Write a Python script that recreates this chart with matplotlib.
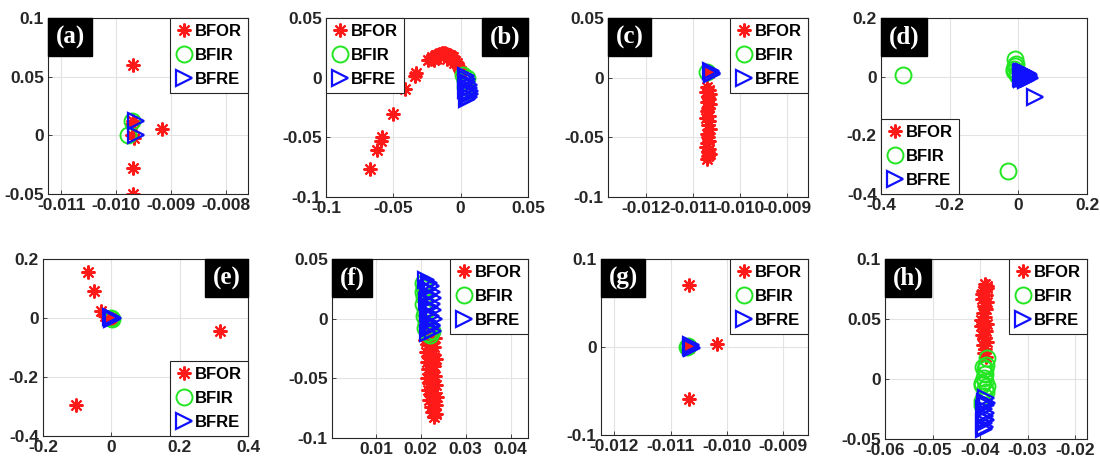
import matplotlib.pyplot as plt
from matplotlib.offsetbox import AnchoredText

plt.rcParams["font.family"] = ["Liberation Sans", "DejaVu Sans"]
plt.rcParams["font.weight"] = "bold"

labels = ["BFOR", "BFIR", "BFRE"]

# ---- (a)
a_or_x = [-0.00970, -0.00970, -0.00971, -0.00969, -0.00970, -0.00916, -0.00972, -0.00968]
a_or_y = [0.060, 0.012, 0.000, -0.028, -0.050, 0.005, 0.010, -0.002]
a_ir_x = [-0.00972, -0.00978]
a_ir_y = [0.012, 0.000]
a_re_x = [-0.00964, -0.00964]
a_re_y = [0.012, 0.000]

# ---- (b)
b_or_x = [-0.0674, -0.0625, -0.0595, -0.0585, -0.0506, -0.0415, -0.0341, -0.0328,
          -0.024, -0.022, -0.021, -0.019, -0.018, -0.017, -0.016, -0.015, -0.014, -0.013,
          -0.012, -0.011, -0.010, -0.009, -0.008, -0.007, -0.006, -0.005, -0.004, -0.003,
          -0.002, -0.001, 0.000, 0.001, -0.020, -0.015, -0.010, -0.005]
b_or_y = [-0.0763, -0.0607, -0.0530, -0.0500, -0.0302, -0.0099, 0.0014, 0.0037,
          0.015, 0.016, 0.017, 0.018, 0.019, 0.019, 0.020, 0.020, 0.021, 0.021,
          0.021, 0.020, 0.020, 0.019, 0.019, 0.018, 0.017, 0.015, 0.014, 0.012,
          0.010, 0.008, 0.006, 0.003, 0.015, 0.017, 0.016, 0.012]
b_ir_x = [0.002, 0.003, 0.003, 0.004, 0.005]
b_ir_y = [0.002, -0.003, -0.008, -0.012, 0.000]
b_re_x = [0.004, 0.005, 0.005, 0.006, 0.006, 0.007, 0.007, 0.006, 0.005, 0.004, 0.006]
b_re_y = [0.001, -0.001, -0.004, -0.006, -0.009, -0.011, -0.014, -0.016, -0.018, -0.010, -0.013]

# ---- (c)
c_or_x = [-0.01070, -0.01066, -0.01072, -0.01064, -0.01069, -0.01067, -0.01071, -0.01065,
          -0.01068, -0.01070, -0.01066, -0.01072, -0.01067, -0.01069, -0.01065, -0.01071,
          -0.01068, -0.01066, -0.01070, -0.01072, -0.01067, -0.01069, -0.01065, -0.01068,
          -0.01070, -0.01066, -0.01067]
c_or_y = [-0.008, -0.010, -0.012, -0.014, -0.016, -0.018, -0.020, -0.022, -0.025, -0.028,
          -0.032, -0.034, -0.036, -0.040, -0.043, -0.047, -0.050, -0.053, -0.055, -0.058,
          -0.060, -0.062, -0.064, -0.066, -0.068, 0.004, 0.005]
c_ir_x = [-0.01070]
c_ir_y = [0.0048]
c_re_x = [-0.01061, -0.01062, -0.01060]
c_re_y = [0.004, 0.006, 0.003]

# ---- (d)
d_or_x = []
d_or_y = []
d_ir_x = [-0.337, -0.029, -0.010, -0.007, -0.013, -0.005, -0.009, -0.003, -0.012]
d_ir_y = [0.005, -0.322, 0.059, 0.042, 0.025, 0.014, 0.035, 0.005, 0.018]
d_re_x = [0.008, 0.010, 0.012, 0.014, 0.016, 0.018, 0.020, 0.022, 0.024, 0.026, 0.028,
          0.030, 0.032, 0.035, 0.009, 0.015, 0.021, 0.027, 0.011, 0.019, 0.048]
d_re_y = [0.012, 0.002, -0.008, 0.008, 0.015, -0.004, 0.006, 0.012, -0.008, 0.002, 0.008,
          -0.002, 0.004, -0.003, -0.006, 0.000, -0.010, 0.010, 0.016, 0.010, -0.069]

# ---- (e)
e_or_x = [-0.068, -0.051, -0.029, -0.020, 0.319, -0.104, 0.000, 0.003, 0.001, -0.003]
e_or_y = [0.155, 0.093, 0.025, 0.008, -0.043, -0.294, 0.000, 0.000, 0.002, -0.002]
e_ir_x = [0.000, 0.003]
e_ir_y = [0.000, -0.002]
e_re_x = [0.004, -0.001, 0.002]
e_re_y = [0.000, 0.002, -0.002]

# ---- (f)
f_or_x = [0.0212, 0.0228, 0.0218, 0.0232, 0.0210, 0.0225, 0.0215, 0.0230, 0.0220, 0.0212,
          0.0227, 0.0218, 0.0233, 0.0214, 0.0224, 0.0230, 0.0216, 0.0226, 0.0221, 0.0232,
          0.0213, 0.0228, 0.0219, 0.0234, 0.0222, 0.0215, 0.0230, 0.0225, 0.0236, 0.0218,
          0.0228, 0.0233, 0.0222, 0.0230, 0.0226, 0.0234, 0.0229]
f_or_y = [-0.010, -0.012, -0.014, -0.016, -0.018, -0.020, -0.022, -0.024, -0.026, -0.028,
          -0.030, -0.032, -0.034, -0.036, -0.038, -0.040, -0.042, -0.044, -0.046, -0.048,
          -0.050, -0.052, -0.054, -0.056, -0.058, -0.060, -0.062, -0.064, -0.066, -0.068,
          -0.070, -0.072, -0.074, -0.076, -0.078, -0.080, -0.082]
f_ir_x = [0.0205, 0.0207, 0.0206, 0.0208, 0.0205, 0.0210, 0.0207, 0.0212, 0.0209, 0.0215,
          0.0220, 0.0224]
f_ir_y = [0.030, 0.026, 0.022, 0.018, 0.012, 0.006, 0.002, -0.004, -0.008, -0.012,
          -0.014, -0.010]
f_re_x = [0.0212, 0.0218, 0.0222, 0.0215, 0.0225, 0.0219, 0.0228, 0.0214, 0.0224, 0.0220,
          0.0227, 0.0216, 0.0223, 0.0229, 0.0218, 0.0226, 0.0221, 0.0228, 0.0215, 0.0225]
f_re_y = [0.032, 0.030, 0.027, 0.025, 0.022, 0.020, 0.017, 0.015, 0.012, 0.010,
          0.007, 0.005, 0.002, 0.000, -0.003, -0.005, -0.008, -0.010, -0.012, -0.006]

# ---- (g)
g_or_x = [-0.01068, -0.01068, -0.01017, -0.01067, -0.01066, -0.01068]
g_or_y = [0.0706, -0.059, 0.003, 0.000, 0.001, -0.001]
g_ir_x = [-0.01070, -0.01069]
g_ir_y = [0.000, 0.001]
g_re_x = [-0.01063, -0.01064, -0.01062]
g_re_y = [0.000, 0.002, -0.001]

# ---- (h)
h_or_x = [-0.0390, -0.0386, -0.0393, -0.0388, -0.0396, -0.0385, -0.0391, -0.0387, -0.0394,
          -0.0389, -0.0397, -0.0386, -0.0392, -0.0388, -0.0395, -0.0390, -0.0386, -0.0393,
          -0.0389, -0.0391, -0.0387, -0.0385, -0.0395, -0.0398, -0.0392]
h_or_y = [0.079, 0.076, 0.073, 0.070, 0.067, 0.064, 0.061, 0.058, 0.055, 0.052, 0.049,
          0.046, 0.043, 0.040, 0.037, 0.034, 0.031, 0.028, 0.025, 0.022, 0.018, 0.0775,
          0.0705, 0.0445, 0.0345]
h_ir_x = [-0.0385, -0.0388, -0.0390, -0.0389, -0.0392, -0.0395, -0.0396, -0.0390, -0.0388,
          -0.0392, -0.0395, -0.0396, -0.0389, -0.0386, -0.0393]
h_ir_y = [0.0175, 0.012, 0.008, 0.004, 0.001, -0.003, -0.005, -0.008, -0.011, -0.014,
          -0.018, -0.022, -0.002, -0.006, 0.010]
h_re_x = [-0.0387, -0.0390, -0.0388, -0.0391, -0.0387, -0.0390, -0.0388, -0.0391, -0.0389,
          -0.0392, -0.0386, -0.0389]
h_re_y = [-0.016, -0.019, -0.022, -0.025, -0.028, -0.031, -0.034, -0.037, -0.040, -0.042,
          -0.020, -0.033]

panels = [
    # name, data, pixel box (l, t, r, b), xlim, ylim, xticks, xticklabels, yticks, yticklabels, label loc, legend loc
    ("(a)", (a_or_x, a_or_y, a_ir_x, a_ir_y, a_re_x, a_re_y), (48, 18, 248, 194),
     (-0.01124, -0.0076), (-0.05, 0.1), [-0.011, -0.010, -0.009, -0.008],
     ["-0.011", "-0.010", "-0.009", "-0.008"], [-0.05, 0, 0.05, 0.1],
     ["-0.05", "0", "0.05", "0.1"], "upper left", "upper right"),
    ("(b)", (b_or_x, b_or_y, b_ir_x, b_ir_y, b_re_x, b_re_y), (326, 18, 528, 197),
     (-0.1, 0.05), (-0.1, 0.05), [-0.1, -0.05, 0, 0.05], ["-0.1", "-0.05", "0", "0.05"],
     [-0.1, -0.05, 0, 0.05], ["-0.1", "-0.05", "0", "0.05"], "upper right", "upper left"),
    ("(c)", (c_or_x, c_or_y, c_ir_x, c_ir_y, c_re_x, c_re_y), (608, 18, 808, 197),
     (-0.01281, -0.00856), (-0.1, 0.05), [-0.012, -0.011, -0.010, -0.009],
     ["-0.012", "-0.011", "-0.010", "-0.009"], [-0.1, -0.05, 0, 0.05],
     ["-0.1", "-0.05", "0", "0.05"], "upper left", "upper right"),
    ("(d)", (d_or_x, d_or_y, d_ir_x, d_ir_y, d_re_x, d_re_y), (881, 18, 1087, 194),
     (-0.4, 0.2), (-0.4, 0.2), [-0.4, -0.2, 0, 0.2], ["-0.4", "-0.2", "0", "0.2"],
     [-0.4, -0.2, 0, 0.2], ["-0.4", "-0.2", "0", "0.2"], "upper left", "lower left"),
    ("(e)", (e_or_x, e_or_y, e_ir_x, e_ir_y, e_re_x, e_re_y), (43, 259, 248, 436),
     (-0.2, 0.4), (-0.4, 0.2), [-0.2, 0, 0.2, 0.4], ["-0.2", "0", "0.2", "0.4"],
     [-0.4, -0.2, 0, 0.2], ["-0.4", "-0.2", "0", "0.2"], "upper right", "lower right"),
    ("(f)", (f_or_x, f_or_y, f_ir_x, f_ir_y, f_re_x, f_re_y), (332, 259, 528, 438),
     (0.0002, 0.0439), (-0.1, 0.05), [0.01, 0.02, 0.03, 0.04], ["0.01", "0.02", "0.03", "0.04"],
     [-0.1, -0.05, 0, 0.05], ["-0.1", "-0.05", "0", "0.05"], "upper left", "upper right"),
    ("(g)", (g_or_x, g_or_y, g_ir_x, g_ir_y, g_re_x, g_re_y), (601, 259, 808, 435),
     (-0.01224, -0.00855), (-0.1, 0.1), [-0.012, -0.011, -0.010, -0.009],
     ["-0.012", "-0.011", "-0.010", "-0.009"], [-0.1, 0, 0.1], ["-0.1", "0", "0.1"],
     "upper left", "upper right"),
    ("(h)", (h_or_x, h_or_y, h_ir_x, h_ir_y, h_re_x, h_re_y), (885, 259, 1087, 439),
     (-0.06, -0.0175), (-0.05, 0.1), [-0.06, -0.05, -0.04, -0.03, -0.02],
     ["-0.06", "-0.05", "-0.04", "-0.03", "-0.02"], [-0.05, 0, 0.05, 0.1],
     ["-0.05", "0", "0.05", "0.1"], "upper left", "upper right"),
]

W, H = 1100, 463
fig = plt.figure(figsize=(11, 4.63), dpi=100)
fig.patch.set_facecolor("white")

for (name, data, box, xl, yl, xt, xtl, yt, ytl, lab_loc, leg_loc) in panels:
    l, t, r, b = box
    ax = fig.add_axes([l / W, 1 - b / H, (r - l) / W, (b - t) / H])
    ox, oy, ix, iy, rx, ry = data
    ax.plot(ox, oy, ls="none", marker=(8, 2, 0), ms=10, mew=1.5, color="#ff1a1a", label=labels[0])
    ax.plot(ix, iy, ls="none", marker="o", ms=11.5, mew=1.4, mfc="none", mec="#22e622", label=labels[1])
    ax.plot(rx, ry, ls="none", marker=">", ms=11.5, mew=1.6, mfc="none", mec="#1010ff", label=labels[2])
    ax.set_xlim(xl)
    ax.set_ylim(yl)
    ax.set_xticks(xt)
    ax.set_xticklabels(xtl)
    ax.set_yticks(yt)
    ax.set_yticklabels(ytl)
    ax.tick_params(direction="in", length=3, width=0.6, labelsize=12.5, colors="#262626",
                   labelcolor="#262626", pad=3)
    ax.grid(True, color="#e3e3e3", lw=0.8)
    ax.set_axisbelow(True)
    for s in ax.spines.values():
        s.set_color("#262626")
        s.set_linewidth(0.8)
    leg = ax.legend(loc=leg_loc, borderaxespad=0, fancybox=False, framealpha=1,
                    edgecolor="#262626", handlelength=1.0, handletextpad=0.15,
                    labelspacing=0.55, borderpad=0.35, prop=dict(size=12, weight="bold"))
    leg.get_frame().set_linewidth(0.8)
    at = AnchoredText(name, loc=lab_loc, pad=0.3, borderpad=0, frameon=True,
                      prop=dict(size=18, color="white", weight="bold",
                                family=["Liberation Serif", "DejaVu Serif"]))
    at.patch.set_facecolor("black")
    at.patch.set_edgecolor("black")
    at.patch.set_boxstyle("square,pad=0")
    ax.add_artist(at)

fig.savefig("out.png", dpi=100)
